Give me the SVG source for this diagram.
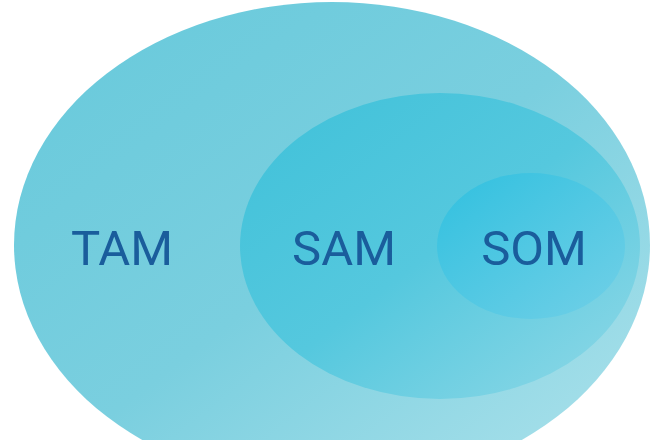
<svg xmlns="http://www.w3.org/2000/svg" width="660" height="440" viewBox="0 0 660 440">
  <defs>
    <linearGradient id="gTam" x1="0" y1="0" x2="1" y2="1">
      <stop offset="0" stop-color="#66c9db"/>
      <stop offset="0.5" stop-color="#7acfdf"/>
      <stop offset="1" stop-color="#b0e3ec"/>
    </linearGradient>
    <linearGradient id="gSam" x1="0" y1="0" x2="1" y2="1">
      <stop offset="0" stop-color="#3fc1d9"/>
      <stop offset="0.5" stop-color="#55c8de"/>
      <stop offset="1" stop-color="#92d9e7"/>
    </linearGradient>
    <linearGradient id="gSom" x1="0" y1="0" x2="1" y2="1">
      <stop offset="0" stop-color="#30c0df"/>
      <stop offset="1" stop-color="#72d0e7"/>
    </linearGradient>
    <style>
      .lbl { font-family: Roboto, "Liberation Sans", sans-serif; font-size: 49px; fill: #1a5d9c; text-anchor: middle; }
    </style>
  </defs>
  <rect width="660" height="440" fill="#ffffff"/>
  <g id="tam">
    <ellipse cx="332" cy="245" rx="318" ry="243" fill="url(#gTam)"/>
    <text class="lbl" x="122" y="265">TAM</text>
  </g>
  <g id="sam">
    <ellipse cx="440" cy="246" rx="200" ry="153" fill="url(#gSam)"/>
    <text class="lbl" x="344" y="265">SAM</text>
  </g>
  <g id="som">
    <ellipse cx="531" cy="246" rx="94" ry="73" fill="url(#gSom)"/>
    <text class="lbl" x="534" y="265">SOM</text>
  </g>
  <g id="connectors"/>
</svg>
